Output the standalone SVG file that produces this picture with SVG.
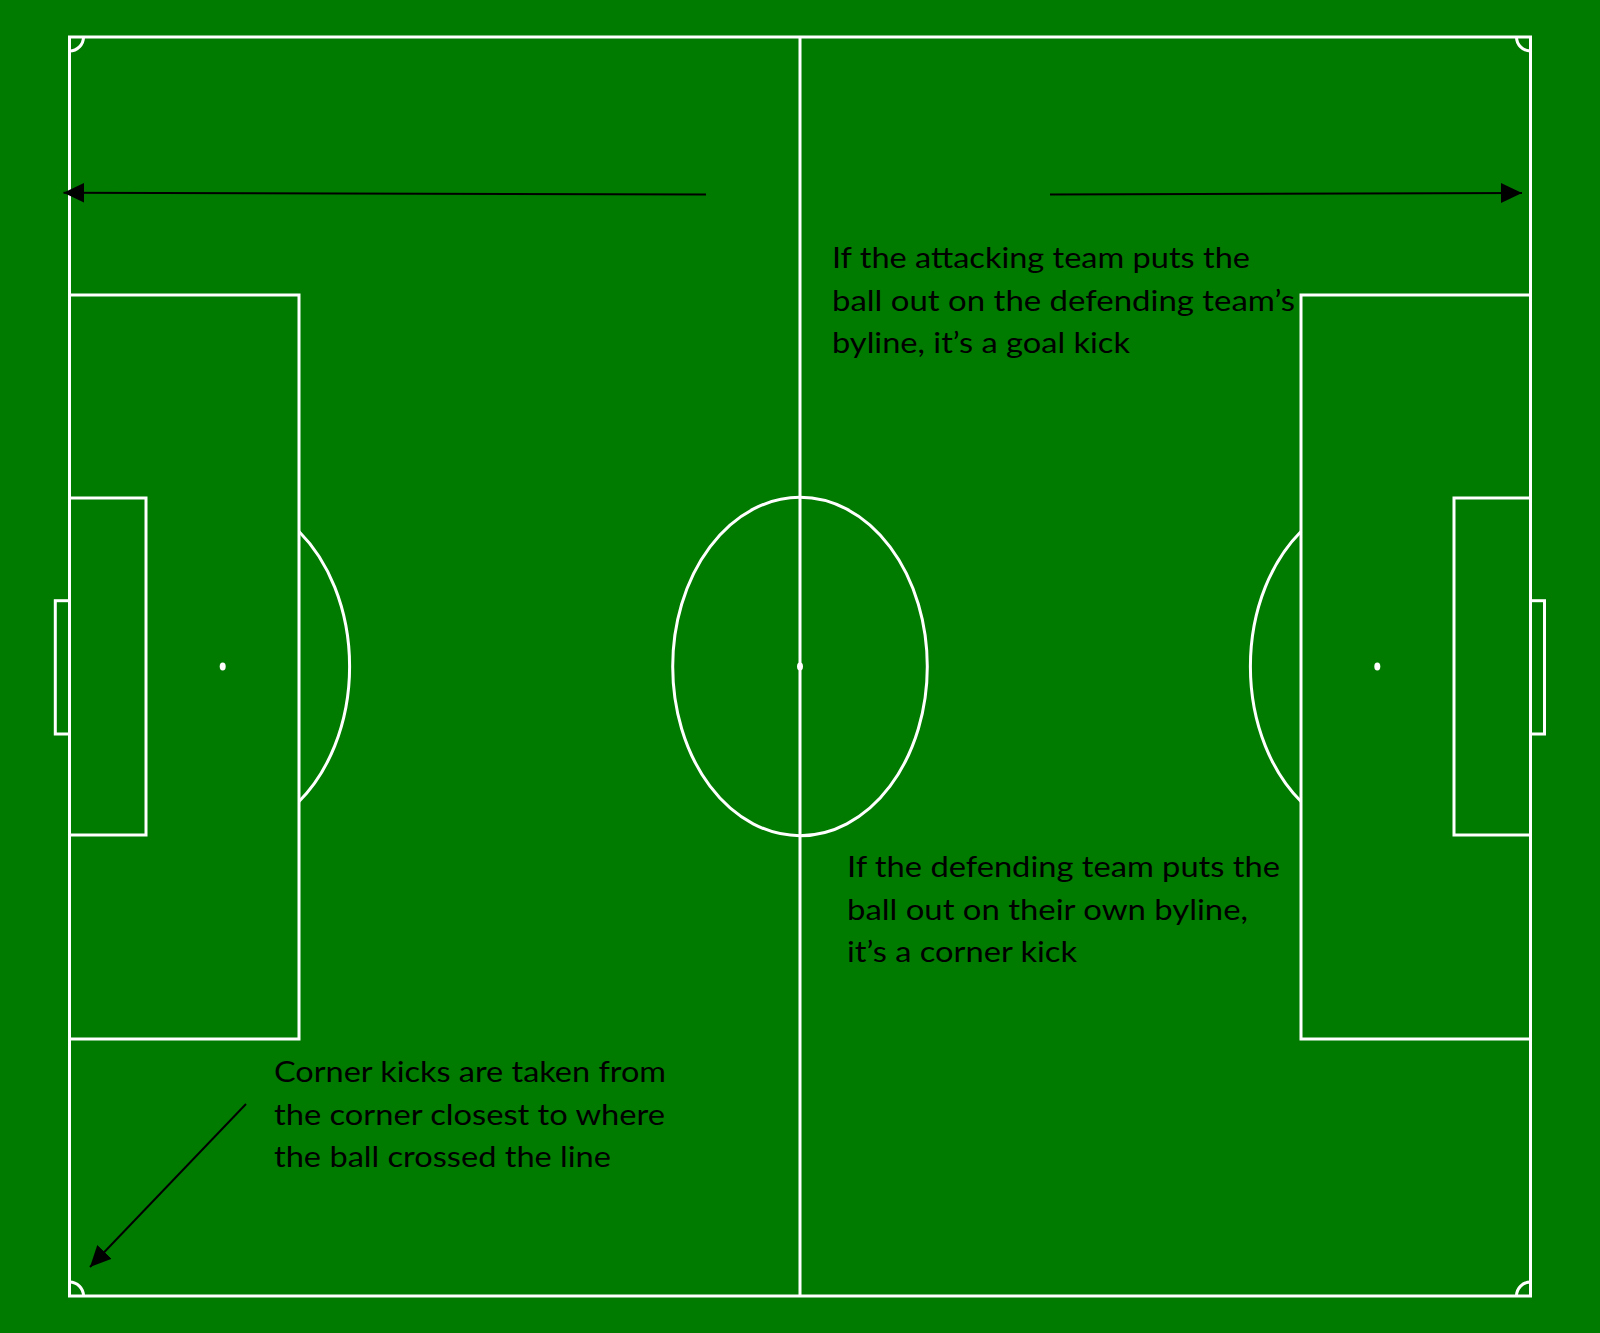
<svg xmlns="http://www.w3.org/2000/svg" width="1600" height="1333" viewBox="0 0 1600 1333">
  <defs>
    <style>
      .line { fill: none; stroke: #ffffff; stroke-width: 3; }
      .spot { fill: #ffffff; stroke: none; }
      .conn { fill: none; stroke: #000000; stroke-width: 2; }
      .label { font-family: "Lato", "Open Sans", "Liberation Sans", sans-serif; font-size: 29px; fill: #000000; }
    </style>
    <marker id="arrow" markerUnits="userSpaceOnUse" markerWidth="22" markerHeight="22" viewBox="0 0 22 22" refX="21" refY="11" orient="auto">
      <path d="M0,1 L21,11 L0,21 Z" fill="#000000"/>
    </marker>
  </defs>

  <rect x="0" y="0" width="1600" height="1333" fill="#007b00"/>

  <g id="pitch">
    <rect class="line" x="69.5" y="37" width="1461" height="1259"/>
    <line class="line" x1="800" y1="37" x2="800" y2="1296"/>
    <ellipse class="line" cx="800" cy="666.5" rx="127.3" ry="169.2"/>
    <ellipse class="spot" cx="800" cy="666.5" rx="3" ry="4"/>
    <!-- corner arcs -->
    <path class="line" d="M83.5,37 A14,14 0 0 1 69.5,51"/>
    <path class="line" d="M1516.5,37 A14,14 0 0 0 1530.5,51"/>
    <path class="line" d="M69.5,1282 A14,14 0 0 1 83.5,1296"/>
    <path class="line" d="M1530.5,1282 A14,14 0 0 0 1516.5,1296"/>
  </g>

  <g id="left-end">
    <rect class="line" x="69.5" y="295" width="229.5" height="744"/>
    <rect class="line" x="69.5" y="498" width="76.5" height="337"/>
    <rect class="line" x="55.3" y="600.7" width="14.2" height="133.3"/>
    <ellipse class="spot" cx="222.7" cy="666.5" rx="3" ry="4"/>
    <path class="line" d="M299,531.5 A127,169 0 0 1 299,801.5"/>
  </g>

  <g id="right-end">
    <rect class="line" x="1301" y="295" width="229.5" height="744"/>
    <rect class="line" x="1454" y="498" width="76.5" height="337"/>
    <rect class="line" x="1530.5" y="600.7" width="14" height="133.3"/>
    <ellipse class="spot" cx="1377.3" cy="666.5" rx="3" ry="4"/>
    <path class="line" d="M1301,531.5 A127,169 0 0 0 1301,801.5"/>
  </g>

  <g id="connectors">
    <line class="conn" x1="706" y1="194.5" x2="63.5" y2="192.7" marker-end="url(#arrow)"/>
    <line class="conn" x1="1050" y1="194.5" x2="1522" y2="193" marker-end="url(#arrow)"/>
    <line class="conn" x1="246" y1="1104" x2="90" y2="1267" marker-end="url(#arrow)"/>
  </g>

  <g id="label-goal-kick">
    <text class="label" x="832" y="268" textLength="418" lengthAdjust="spacingAndGlyphs">If the attacking team puts the</text>
    <text class="label" x="832" y="311" textLength="463" lengthAdjust="spacingAndGlyphs">ball out on the defending team’s</text>
    <text class="label" x="832" y="353" textLength="298" lengthAdjust="spacingAndGlyphs">byline, it’s a goal kick</text>
  </g>

  <g id="label-corner-kick">
    <text class="label" x="847" y="877" textLength="433" lengthAdjust="spacingAndGlyphs">If the defending team puts the</text>
    <text class="label" x="847" y="920" textLength="401" lengthAdjust="spacingAndGlyphs">ball out on their own byline,</text>
    <text class="label" x="847" y="962" textLength="230" lengthAdjust="spacingAndGlyphs">it’s a corner kick</text>
  </g>

  <g id="label-corner-location">
    <text class="label" x="274" y="1082" textLength="392" lengthAdjust="spacingAndGlyphs">Corner kicks are taken from</text>
    <text class="label" x="274" y="1125" textLength="391" lengthAdjust="spacingAndGlyphs">the corner closest to where</text>
    <text class="label" x="274" y="1167" textLength="337" lengthAdjust="spacingAndGlyphs">the ball crossed the line</text>
  </g>
</svg>
